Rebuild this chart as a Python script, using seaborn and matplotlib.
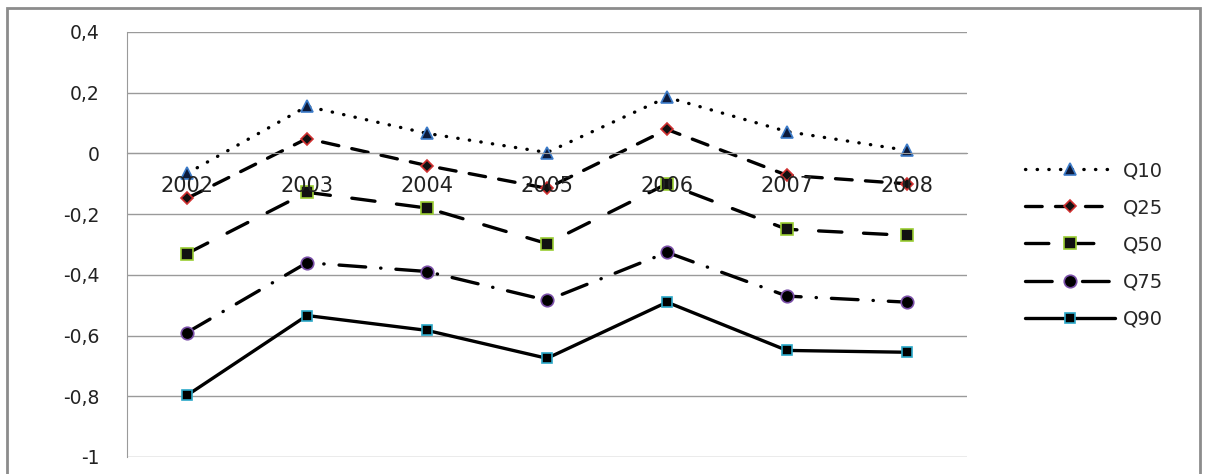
import numpy as np
import pandas as pd
import matplotlib
matplotlib.use("Agg")
import matplotlib.pyplot as plt
import seaborn as sns
from matplotlib.patches import Rectangle
from matplotlib.ticker import FuncFormatter

# data
years = ["2002", "2003", "2004", "2005", "2006", "2007", "2008"]
q10 = [-0.066, 0.155, 0.066, 0.003, 0.185, 0.072, 0.010]
q25 = [-0.148, 0.049, -0.040, -0.115, 0.079, -0.072, -0.100]
q50 = [-0.330, -0.128, -0.180, -0.297, -0.100, -0.250, -0.270]
q75 = [-0.590, -0.360, -0.389, -0.484, -0.326, -0.470, -0.490]
q90 = [-0.797, -0.534, -0.583, -0.675, -0.490, -0.649, -0.655]
y_ticks = [0.4, 0.2, 0, -0.2, -0.4, -0.6, -0.8, -1]

series = {"Q10": q10, "Q25": q25, "Q50": q50, "Q75": q75, "Q90": q90}
df = pd.DataFrame({"year": years, **series})
df["pos"] = np.arange(len(years))

sns.set_style("white")
plt.rcParams["font.family"] = ["DejaVu Sans"]

styles = {
    "Q10": dict(ls=(0, (0.1, 3.4)), marker="^", mfc="#0d1a3a", mec="#3d7cc9", ms=8),
    "Q25": dict(ls=(0, (5, 4)), marker="D", mfc="#111111", mec="#d03030", ms=6),
    "Q50": dict(ls=(0, (7, 6.5)), marker="s", mfc="#111111", mec="#9acd32", ms=8),
    "Q75": dict(ls=(0, (8, 4.5, 0.1, 4.5)), marker="o", mfc="#000000", mec="#7a4fa8", ms=9),
    "Q90": dict(ls="-", marker="s", mfc="#000000", mec="#2ba8c8", ms=7),
}

fig = plt.figure(figsize=(12.07, 4.74), dpi=100)
ax = fig.add_axes([0.1052, 0.0359, 0.6960, 0.8966])

for name in series:
    st = styles[name]
    sns.lineplot(data=df, x="pos", y=name, ax=ax, color="black", lw=2.4,
                 linestyle=st["ls"], marker=st["marker"], markersize=st["ms"],
                 markerfacecolor=st["mfc"], markeredgecolor=st["mec"],
                 markeredgewidth=1.2, label=name, legend=False)
    ax.lines[-1].set_dash_capstyle("round")

ax.set_xlim(-0.5, len(years) - 0.5)
ax.set_ylim(-1, 0.4)
ax.set_yticks(y_ticks)
ax.yaxis.set_major_formatter(FuncFormatter(
    lambda v, p: "0" if abs(v) < 1e-9 else f"{v:g}".replace(".", ",")))
ax.grid(axis="y", color="#9a9a9a", lw=1)
ax.set_axisbelow(True)
ax.tick_params(axis="y", length=6.5, width=1, color="#9a9a9a", labelsize=13.5,
               labelcolor="#222222", pad=13)

# x axis sits on the zero line, labels under it
ax.spines["bottom"].set_position(("data", 0))
ax.spines["bottom"].set_color("#9a9a9a")
ax.spines["left"].set_color("#9a9a9a")
ax.spines["top"].set_visible(False)
ax.spines["right"].set_visible(False)
ax.set_xticks(np.arange(len(years) + 1) - 0.5)
ax.set_xticklabels([])
ax.tick_params(axis="x", length=6, width=1, color="#9a9a9a", direction="out")
for i, yr in enumerate(years):
    ax.text(i, -0.108, yr, ha="center", va="center", fontsize=15, color="#222222")
ax.set_xlabel("")
ax.set_ylabel("")

handles, labels = ax.get_legend_handles_labels()
fig.legend(handles, labels, loc="upper left", bbox_to_anchor=(0.835, 0.697),
           frameon=False, fontsize=14, handlelength=4.6, labelspacing=0.93,
           handletextpad=0.4)

fig.patches.append(Rectangle((0.006, -0.01), 0.988, 0.994, transform=fig.transFigure,
                             fill=False, edgecolor="#8c8c8c", lw=2))

fig.savefig("out.png", dpi=100)
